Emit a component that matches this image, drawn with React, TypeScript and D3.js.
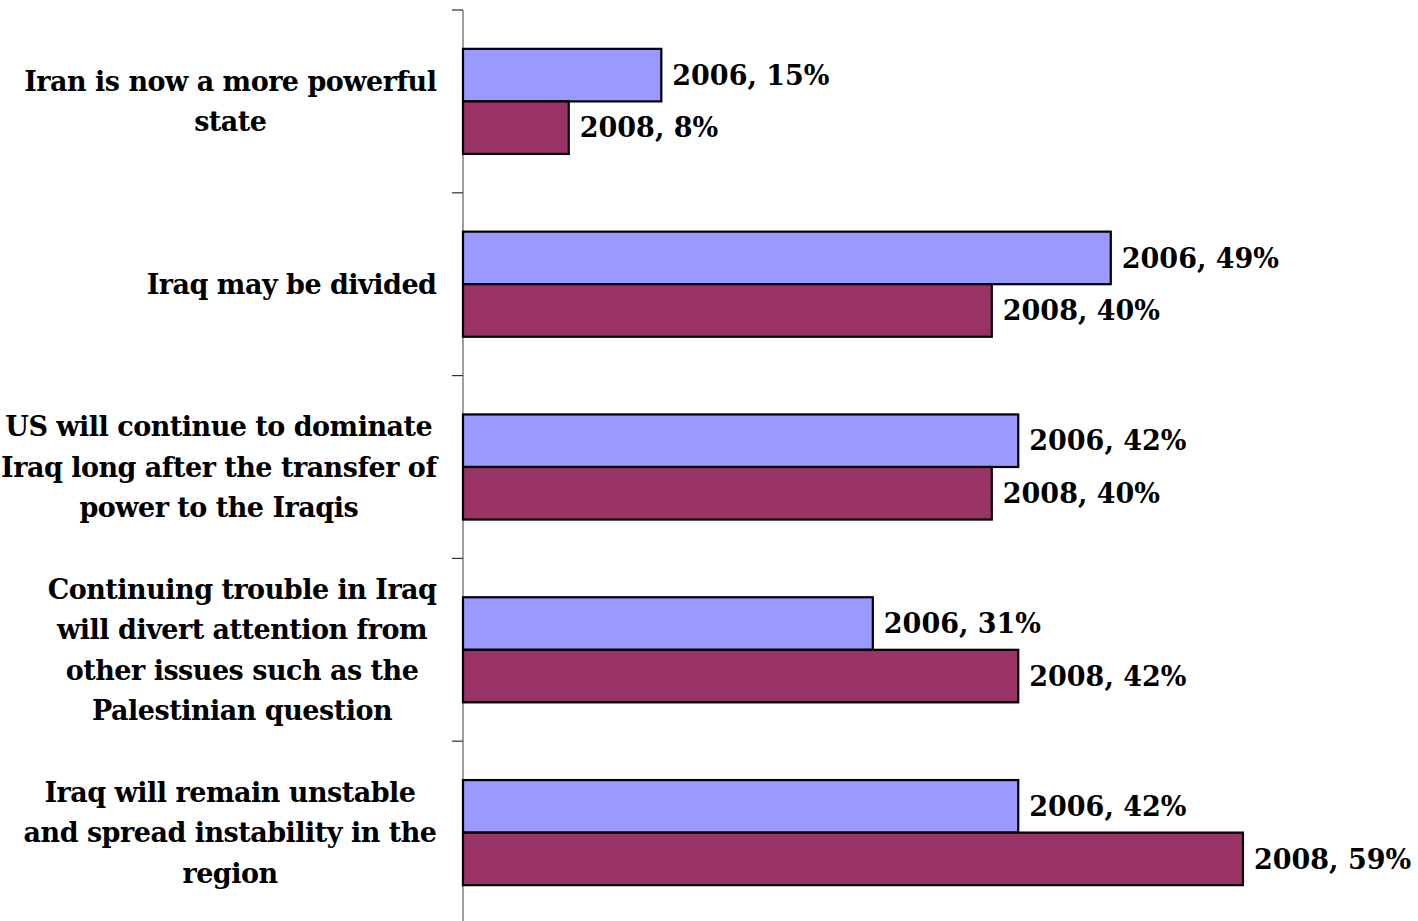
import React from "react";
import * as d3 from "d3";

const categories: string[][] = [
  ["Iran is now a more powerful", "state"],
  ["Iraq may be divided"],
  ["US will continue to dominate", "Iraq long after the transfer of", "power to the Iraqis"],
  ["Continuing trouble in Iraq", "will divert attention from", "other issues such as the", "Palestinian question"],
  ["Iraq will remain unstable", "and spread instability in the", "region"],
];
const seriesNames = ["2006", "2008"];
const values2006 = [15, 49, 42, 31, 42];
const values2008 = [8, 40, 40, 42, 59];
const colors = ["#9999FF", "#993366"];

const W = 1418;
const H = 921;
const FONT = "bold 27px 'DejaVu Serif'";
const LS = -0.5;

let ctx: CanvasRenderingContext2D | null = null;
function measure(t: string): number {
  if (!ctx) ctx = document.createElement("canvas").getContext("2d");
  ctx!.font = FONT;
  return ctx!.measureText(t).width + LS * (t.length - 1);
}

export default function App() {
  const x = d3.scaleLinear().domain([0, 100]).range([463, 463 + 1322]);
  const y = d3.scaleBand<number>().domain(d3.range(categories.length)).range([10, 924]).paddingInner(0.425).paddingOuter(0.2125);
  const bw = y.bandwidth() / 2;
  const step = y.step();
  const series = [values2006, values2008];
  const labelRight = 437;
  const lineH = 40.5;

  return (
    <svg width={W} height={H} style={{ position: "absolute", left: 0, top: 0 }} fontFamily="'DejaVu Serif'" fontWeight="bold" fontSize={27}>
      <rect width={W} height={H} fill="#fff" />
      <line x1={463} x2={463} y1={10} y2={924} stroke="#808080" strokeWidth={1.5} />
      {d3.range(categories.length + 1).map((i) => {
        const yy = 10 + i * step;
        return <line key={i} x1={452} x2={463} y1={yy} y2={yy} stroke="#333" strokeWidth={1.2} />;
      })}
      {categories.map((lines, i) => {
        const maxW = Math.max(...lines.map(measure));
        const cy = (y(i) as number) + y.bandwidth() / 2;
        const top = cy - ((lines.length - 1) * lineH) / 2;
        return (
          <text key={i} fill="#000" letterSpacing={LS}>
            {lines.map((l, j) => {
              const w = measure(l);
              const lx = labelRight - maxW + (maxW - w) / 2;
              return (
                <tspan key={j} x={lx} y={top + j * lineH} dy="0.36em">{l}</tspan>
              );
            })}
          </text>
        );
      })}
      {series.map((vals, s) =>
        vals.map((v, i) => {
          const y0 = (y(i) as number) + s * bw;
          return (
            <g key={s + "-" + i}>
              <rect x={x(0)} y={y0} width={x(v) - x(0)} height={bw} fill={colors[s]} stroke="#000" strokeWidth={2.2} />
              <text x={x(v) + 11} y={y0 + bw / 2} dy="0.36em" fill="#000">{`${seriesNames[s]}, ${v}%`}</text>
            </g>
          );
        })
      )}
    </svg>
  );
}
